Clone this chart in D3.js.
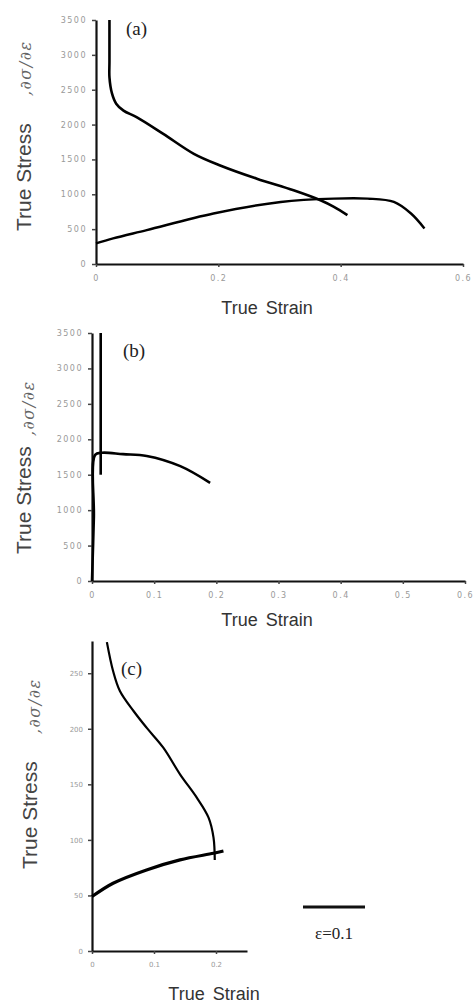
<!DOCTYPE html>
<html>
<head>
<meta charset="utf-8">
<script src="https://cdnjs.cloudflare.com/ajax/libs/d3/7.8.5/d3.min.js"></script>
<style>
  body { margin: 0; background: #fff; }
  .tick text { font-family: "DejaVu Sans", sans-serif; fill: #999; }
</style>
</head>
<body>
<div id="chart"></div>
<script>
// PANEL (a) data
var aHardStrain = [0.022, 0.022, 0.022, 0.026, 0.033, 0.045, 0.067, 0.11, 0.16, 0.203, 0.263, 0.323, 0.367, 0.389, 0.411];
var aHardRate   = [3500, 2900, 2676, 2450, 2300, 2200, 2104, 1867, 1581, 1414, 1224, 1057, 914, 819, 700];
var aFlowStrain = [0, 0.028, 0.083, 0.192, 0.302, 0.389, 0.444, 0.487, 0.515, 0.537];
var aFlowStress = [295, 367, 486, 724, 890, 938, 938, 890, 724, 510];
var aYTicks = [0, 500, 1000, 1500, 2000, 2500, 3000, 3500];
var aXTicks = [0, 0.2, 0.4, 0.6];

// PANEL (b) data
var bHardStrain = [0.014, 0.014];
var bHardRate   = [3500, 1500];
var bFlowStrain = [0, 0.003, 0.005, 0.016, 0.05, 0.088, 0.142, 0.19];
var bFlowStress = [0, 900, 1780, 1810, 1790, 1765, 1621, 1385];
var bYTicks = [0, 500, 1000, 1500, 2000, 2500, 3000, 3500];
var bXTicks = [0, 0.1, 0.2, 0.3, 0.4, 0.5, 0.6];

// PANEL (c) data
var cHardStrain = [0.024, 0.034, 0.045, 0.067, 0.088, 0.115, 0.142, 0.169, 0.188, 0.196, 0.198];
var cHardRate   = [278, 252, 234, 216, 201, 183, 159, 138, 120, 102, 82];
var cFlowStrain = [0, 0.034, 0.088, 0.142, 0.196, 0.212];
var cFlowStress = [49, 61, 73, 82, 88, 90];
var cYTicks = [0, 50, 100, 150, 200, 250];
var cXTicks = [0, 0.1, 0.2];
var scaleBar = 0.1;

var width = 476, height = 1003;

var svg = d3.select("#chart").append("svg")
  .attr("width", width)
  .attr("height", height);

function zip(xs, ys) {
  return xs.map(function(x, i) { return [x, ys[i]]; });
}

function drawPanel(p) {
  var x = d3.scaleLinear().domain(p.xDomain).range([p.left, p.right]);
  var y = d3.scaleLinear().domain(p.yDomain).range([p.bottom, p.top]);

  var g = svg.append("g");

  // AXES
  var yAxis = g.append("g")
    .attr("transform", "translate(" + p.left + ",0)")
    .call(d3.axisLeft(y).tickValues(p.yTicks).tickSize(4).tickSizeOuter(0).tickPadding(5)
      .tickFormat(d3.format("d")));
  var xAxis = g.append("g")
    .attr("transform", "translate(0," + p.bottom + ")")
    .call(d3.axisBottom(x).tickValues(p.xTicks).tickSize(3).tickSizeOuter(0).tickPadding(8)
      .tickFormat(function(d) { return d === 0 ? "0" : d3.format(".1f")(d); }));

  [xAxis, yAxis].forEach(function(ax) {
    ax.select(".domain").attr("stroke", "#111").attr("stroke-width", 2.2);
    ax.selectAll(".tick line").attr("stroke", "#444").attr("stroke-width", 1.5);
    ax.selectAll(".tick text").style("font-size", p.tickFont + "px")
      .style("letter-spacing", p.tickSpacing + "px");
  });

  var line = d3.line()
    .x(function(d) { return x(d[0]); })
    .y(function(d) { return y(d[1]); })
    .curve(d3.curveCatmullRom.alpha(0.5));

  // CURVES
  g.append("path")
    .datum(zip(p.hardX, p.hardY))
    .attr("d", line)
    .attr("fill", "none")
    .attr("stroke", "#000")
    .attr("stroke-width", p.hardWidth);

  g.append("path")
    .datum(zip(p.flowX, p.flowY))
    .attr("d", line)
    .attr("fill", "none")
    .attr("stroke", "#000")
    .attr("stroke-width", p.flowWidth);

  // PANEL LETTER
  g.append("text")
    .attr("x", p.letterX)
    .attr("y", p.letterY)
    .attr("font-family", "Liberation Serif, serif")
    .attr("font-size", 19)
    .attr("fill", "#222")
    .text(p.letter);

  // X LABEL
  g.append("text")
    .attr("x", p.xLabelX)
    .attr("y", p.xLabelY)
    .attr("text-anchor", "middle")
    .attr("font-family", "Liberation Sans, Arial, sans-serif")
    .attr("font-size", 18)
    .attr("word-spacing", 3)
    .attr("fill", "#333")
    .text("True Strain");

  return { x: x, y: y, g: g };
}

function yLabel(xPos, yPos, rateX, rateY) {
  svg.append("text")
    .attr("transform", "translate(" + xPos + "," + yPos + ") rotate(-90)")
    .attr("font-family", "Liberation Sans, Arial, sans-serif")
    .attr("font-size", 21)
    .attr("fill", "#444")
    .text("True Stress");
  svg.append("text")
    .attr("transform", "translate(" + rateX + "," + rateY + ") rotate(-90)")
    .attr("font-family", "DejaVu Serif, serif")
    .attr("font-style", "italic")
    .attr("font-size", 16)
    .attr("letter-spacing", 1.5)
    .attr("fill", "#666")
    .text(",\u2202\u03c3/\u2202\u03b5");
}

// (a)
drawPanel({
  xDomain: [0, 0.6], yDomain: [0, 3500],
  left: 96, right: 463, top: 20, bottom: 264,
  xTicks: aXTicks, yTicks: aYTicks, tickFont: 8, tickSpacing: 1.5,
  hardX: aHardStrain, hardY: aHardRate, flowX: aFlowStrain, flowY: aFlowStress,
  hardWidth: 2.6, flowWidth: 2.4,
  letter: "(a)", letterX: 126, letterY: 35,
  xLabelX: 267, xLabelY: 314
});
yLabel(31, 231, 31, 96);

// (b)
drawPanel({
  xDomain: [0, 0.6], yDomain: [0, 3500],
  left: 92, right: 465, top: 333, bottom: 581,
  xTicks: bXTicks, yTicks: bYTicks, tickFont: 8, tickSpacing: 1.5,
  hardX: bHardStrain, hardY: bHardRate, flowX: bFlowStrain, flowY: bFlowStress,
  hardWidth: 2.6, flowWidth: 2.6,
  letter: "(b)", letterX: 123, letterY: 357,
  xLabelX: 267, xLabelY: 626
});
yLabel(31, 554, 34, 436);

// (c)
var pc = drawPanel({
  xDomain: [0, 0.25], yDomain: [0, 279],
  left: 92, right: 247, top: 641, bottom: 951,
  xTicks: cXTicks, yTicks: cYTicks, tickFont: 7, tickSpacing: 0,
  hardX: cHardStrain, hardY: cHardRate, flowX: cFlowStrain, flowY: cFlowStress,
  hardWidth: 2.2, flowWidth: 3.2,
  letter: "(c)", letterX: 121, letterY: 675,
  xLabelX: 214, xLabelY: 1000
});
yLabel(37, 869, 40, 734);

// SCALE BAR
var barLen = pc.x(scaleBar) - pc.x(0);
var barX = 303, barY = 907;
svg.append("line")
  .attr("x1", barX).attr("x2", barX + barLen)
  .attr("y1", barY).attr("y2", barY)
  .attr("stroke", "#111").attr("stroke-width", 3);
svg.append("text")
  .attr("x", barX + barLen / 2)
  .attr("y", 939)
  .attr("text-anchor", "middle")
  .attr("font-family", "Liberation Serif, serif")
  .attr("font-size", 17)
  .attr("fill", "#222")
  .text("\u03b5=" + scaleBar);
</script>
</body>
</html>
